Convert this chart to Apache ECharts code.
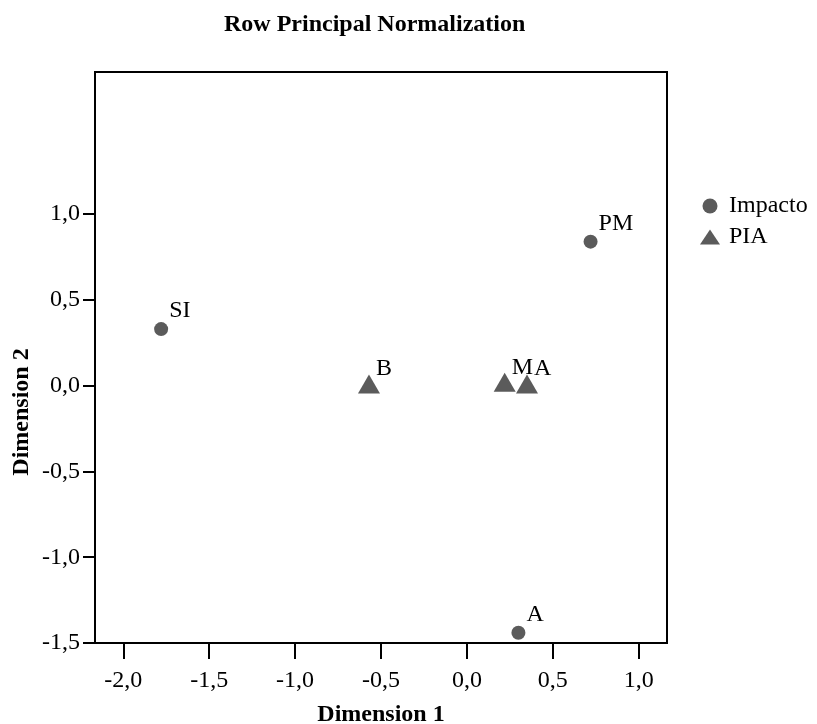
<!DOCTYPE html>
<html>
<head>
<meta charset="utf-8">
<script src="https://cdn.jsdelivr.net/npm/echarts@6/dist/echarts.min.js"></script>
<style>
  html, body { margin: 0; padding: 0; background: #fff; }
  #main { width: 817px; height: 724px; }
</style>
</head>
<body>
<div id="main"></div>
<script>
// category points (row principal normalization)
var impactoNames = ['SI', 'PM', 'A'];
var impactoX = [-1.78, 0.72, 0.30];
var impactoY = [0.33, 0.84, -1.44];

var piaNames = ['B', 'M', 'A'];
var piaX = [-0.57, 0.22, 0.35];
var piaY = [0.01, 0.02, 0.01];

var tickValuesX = [-2.0, -1.5, -1.0, -0.5, 0.0, 0.5, 1.0];
var tickValuesY = [-1.5, -1.0, -0.5, 0.0, 0.5, 1.0];

var serif = "'Liberation Serif', 'Times New Roman', serif";
var markColor = '#5b5b5b';

function pts(names, xs, ys) {
  return names.map(function (n, i) {
    return { name: n, value: [xs[i], ys[i]] };
  });
}

function fmt(v) {
  var s = Math.abs(v) < 1e-9 ? '0.0' : v.toFixed(1);
  return s.replace('.', ',');
}

var option = {
  backgroundColor: '#fff',
  animation: false,
  title: {
    text: 'Row Principal Normalization',
    left: 224,
    top: 13,
    padding: 0,
    textStyle: { fontFamily: serif, fontSize: 24, fontWeight: 'bold', color: '#000' }
  },
  legend: {
    orient: 'vertical',
    left: 700,
    top: 194,
    padding: 0,
    itemWidth: 20,
    itemHeight: 15,
    itemGap: 7,
    textStyle: { fontFamily: serif, fontSize: 24, color: '#000', lineHeight: 24, padding: [0, 0, 0, 4] },
    data: [
      { name: 'Impacto', icon: 'circle' },
      { name: 'PIA', icon: 'triangle' }
    ]
  },
  grid: {
    left: 95,
    right: 150,
    top: 72,
    bottom: 81,
    show: true,
    borderColor: '#000',
    borderWidth: 2,
    containLabel: false,
    outerBoundsMode: 'none'
  },
  xAxis: {
    type: 'value',
    min: -2.165,
    max: 1.165,
    name: 'Dimension 1',
    nameLocation: 'middle',
    nameGap: 60,
    nameTextStyle: { fontFamily: serif, fontSize: 24, fontWeight: 'bold', color: '#000' },
    axisLine: { show: true, onZero: false, lineStyle: { color: '#000', width: 2 } },
    axisTick: { show: true, length: 16, lineStyle: { color: '#000', width: 2 }, customValues: tickValuesX },
    axisLabel: {
      margin: 26, fontFamily: serif, fontSize: 24, color: '#000',
      customValues: tickValuesX, formatter: fmt
    },
    splitLine: { show: false }
  },
  yAxis: {
    type: 'value',
    min: -1.5,
    max: 1.829,
    axisLine: { show: true, onZero: false, lineStyle: { color: '#000', width: 2 } },
    axisTick: { show: true, length: 12, lineStyle: { color: '#000', width: 2 }, customValues: tickValuesY },
    axisLabel: {
      margin: 15, fontFamily: serif, fontSize: 24, color: '#000',
      customValues: tickValuesY, formatter: fmt
    },
    splitLine: { show: false }
  },
  graphic: [
    {
      type: 'text',
      x: 22,
      y: 412,
      rotation: Math.PI / 2,
      style: {
        text: 'Dimension 2',
        fontFamily: serif, fontSize: 24, fontWeight: 'bold', fill: '#000',
        align: 'center', verticalAlign: 'middle'
      }
    }
  ],
  series: [
    {
      name: 'Impacto',
      type: 'scatter',
      symbol: 'circle',
      symbolSize: 14,
      itemStyle: { color: markColor, opacity: 1 },
      label: {
        show: true,
        formatter: '{b}',
        position: 'right',
        distance: 1,
        offset: [0, -18],
        fontFamily: serif, fontSize: 24, color: '#000'
      },
      data: pts(impactoNames, impactoX, impactoY)
    },
    {
      name: 'PIA',
      type: 'scatter',
      symbol: 'triangle',
      symbolSize: [22, 19],
      itemStyle: { color: markColor, opacity: 1 },
      label: {
        show: true,
        formatter: '{b}',
        position: 'right',
        distance: 0,
        offset: [-4, -15],
        fontFamily: serif, fontSize: 24, color: '#000'
      },
      data: pts(piaNames, piaX, piaY)
    }
  ]
};

var chart = echarts.init(document.getElementById('main'), null, { renderer: 'canvas' });
chart.setOption(option);
</script>
</body>
</html>
